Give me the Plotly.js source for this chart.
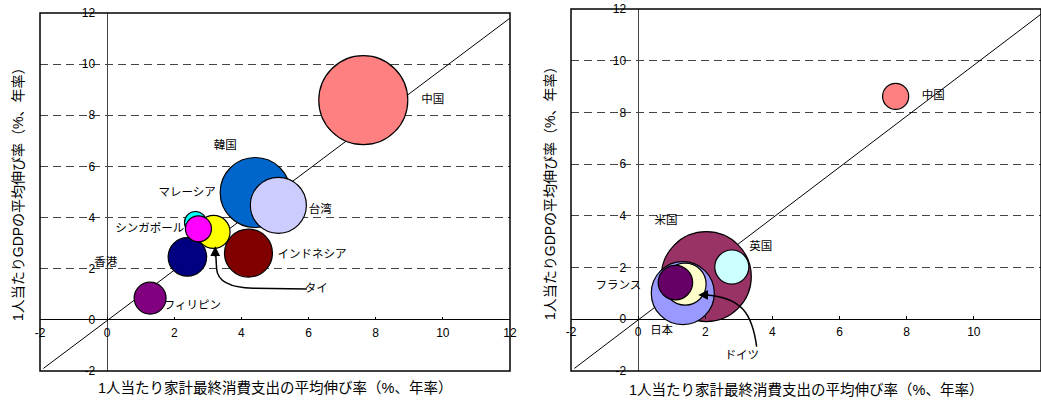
<!DOCTYPE html>
<html>
<head>
<meta charset="utf-8">
<script src="https://cdn.plot.ly/plotly-3.0.1.min.js"></script>
<style>
  body { margin: 0; background: #fff; }
  #chart { width: 1041px; height: 400px; }
</style>
</head>
<body>
<div id="chart"></div>
<script>
// left panel: Asian economies (x = consumption growth, y = GDP growth, size = bubble value)
const asiaNames = ['中国', '韓国', '台湾', 'インドネシア', '香港', 'フィリピン', 'マレーシア', 'タイ', 'シンガポール'];
const asiaCons = [7.63, 4.41, 5.10, 4.21, 2.39, 1.28, 2.63, 3.17, 2.72];
const asiaGdp = [8.59, 4.98, 4.48, 2.61, 2.46, 0.85, 3.81, 3.44, 3.56];
const asiaSize = [79.2, 49.0, 31.4, 23.0, 14.8, 10.2, 4.8, 10.9, 6.8];
const asiaColors = ['#FF8080', '#0066CC', '#CCCCFF', '#800000', '#000080', '#800080', '#00FFFF', '#FFFF00', '#FF00FF'];
const asiaLabelX = [9.70, 3.52, 6.35, 6.10, -0.04, 2.54, 2.38, 6.23, 1.27];
const asiaLabelY = [8.60, 6.78, 4.30, 2.54, 2.22, 0.52, 4.96, 1.22, 3.56];

// right panel: major economies
const worldNames = ['中国', '米国', '英国', '日本', 'ドイツ', 'フランス'];
const worldCons = [7.67, 2.03, 2.79, 1.33, 1.40, 1.11];
const worldGdp = [8.62, 1.65, 2.02, 1.01, 1.36, 1.42];
const worldSize = [6.8, 81.0, 11.6, 39.7, 17.6, 11.9];
const worldColors = ['#FF8080', '#993366', '#CCFFFF', '#9999FF', '#FFFFCC', '#660066'];
const worldLabelX = [8.79, 0.83, 3.65, 0.70, 3.09, -0.59];
const worldLabelY = [8.62, 3.81, 2.79, -0.45, -1.44, 1.30];

// 45 degree line
const diagX = [-1.9, 12];
const diagY = [-1.9, 11.8];

// axis ticks
const tickVals = [-2, 0, 2, 4, 6, 8, 10, 12];
const tickText = ['-2', '0', '2', '4', '6', '8', '10', '12'];
const axisRange = [-2, 12];

const xTitle = '1人当たり家計最終消費支出の平均伸び率（%、年率）';
const yTitle = '1人当たりGDPの平均伸び率（%、年率）';

const jpFont = 'Liberation Sans, Noto Sans CJK JP, sans-serif';
const W = 1041, H = 400;

// panel boxes in pixels
const leftBox = { x0: 40, x1: 510, top: 13, bottom: 371 };
const rightBox = { x0: 571, x1: 1041, top: 9, bottom: 371 };

function zeroFrac(d) {
    // paper fraction where the value 0 sits inside the domain
    return d[0] + (0 - axisRange[0]) / (axisRange[1] - axisRange[0]) * (d[1] - d[0]);
}

function makeAxes(box) {
    const xd = [box.x0 / W, box.x1 / W];
    const yd = [(H - box.bottom) / H, (H - box.top) / H];
    const tickfont = { family: 'Liberation Sans, Arial, sans-serif', size: 12, color: '#000' };
    const xa = {
        domain: xd, range: axisRange, anchor: 'free', position: zeroFrac(yd),
        tickvals: tickVals, ticktext: tickText, tickfont: tickfont,
        ticks: 'inside', ticklen: 3, tickcolor: '#000', ticklabelstandoff: 4,
        showline: false,
        showgrid: false, zeroline: true, zerolinecolor: '#444', zerolinewidth: 1,
        fixedrange: true
    };
    const ya = {
        domain: yd, range: axisRange, anchor: 'free', position: zeroFrac(xd),
        tickvals: tickVals, ticktext: tickText, tickfont: tickfont,
        ticks: '', ticklabelstandoff: 12,
        showline: false,
        showgrid: true, gridcolor: '#444', gridwidth: 1.2, griddash: '8px,5px',
        zeroline: true, zerolinecolor: '#000', zerolinewidth: 1.2,
        fixedrange: true
    };
    return [xa, ya];
}

function bubbles(xs, ys, sizes, colors, xa, ya) {
    return {
        x: xs, y: ys, xaxis: xa, yaxis: ya,
        mode: 'markers', type: 'scatter', hoverinfo: 'skip',
        marker: {
            size: sizes, sizemode: 'area', sizeref: 0.02,
            color: colors, opacity: 1,
            line: { color: '#000', width: 1.2 }
        }
    };
}

function labels(xs, ys, names, xa, ya) {
    return {
        x: xs, y: ys, text: names, xaxis: xa, yaxis: ya,
        mode: 'text', type: 'scatter', hoverinfo: 'skip', cliponaxis: false,
        textposition: 'middle center',
        textfont: { family: jpFont, size: 11.5, color: '#000' }
    };
}

function diagonal(xa, ya) {
    return {
        x: diagX, y: diagY, xaxis: xa, yaxis: ya,
        mode: 'lines', type: 'scatter', hoverinfo: 'skip',
        line: { color: '#000', width: 1 }
    };
}

const [xa1, ya1] = makeAxes(leftBox);
const [xa2, ya2] = makeAxes(rightBox);

const data = [
    diagonal('x', 'y'),
    labels(asiaLabelX, asiaLabelY, asiaNames, 'x', 'y'),
    bubbles(asiaCons, asiaGdp, asiaSize, asiaColors, 'x', 'y'),
    diagonal('x2', 'y2'),
    labels(worldLabelX, worldLabelY, worldNames, 'x2', 'y2'),
    bubbles(worldCons, worldGdp, worldSize, worldColors, 'x2', 'y2')
];

// curved arrows (タイ, ドイツ) as paths in data units
const thaiPath = [[5.95, 1.21], [4.35, 1.24], [3.30, 1.27], [3.26, 2.0], [3.23, 2.7]];
const germanyPath = [[3.53, -1.06], [3.40, 0.20], [3.10, 0.85], [2.00, 0.94]];

const p = (pt) => pt[0] + ',' + pt[1];
const shapes = [
    {
        type: 'rect', xref: 'x domain', yref: 'y domain', x0: 0, x1: 1, y0: 0, y1: 1,
        line: { color: '#000', width: 1.5 }
    },
    {
        type: 'rect', xref: 'x2 domain', yref: 'y2 domain', x0: 0, x1: 1, y0: 0, y1: 1,
        line: { color: '#000', width: 1.5 }
    },
    {
        type: 'path', xref: 'x', yref: 'y',
        path: 'M' + p(thaiPath[0]) + ' L' + p(thaiPath[1]) + ' Q' + p(thaiPath[2]) + ' ' + p(thaiPath[3]) + ' L' + p(thaiPath[4]),
        line: { color: '#000', width: 1.5 }
    },
    {
        type: 'path', xref: 'x2', yref: 'y2',
        path: 'M' + p(germanyPath[0]) + ' C' + p(germanyPath[1]) + ' ' + p(germanyPath[2]) + ' ' + p(germanyPath[3]),
        line: { color: '#000', width: 1.5 }
    }
];

const xTitleFont = { family: jpFont, size: 14.5, color: '#000' };
const yTitleFont = { family: jpFont, size: 14, color: '#000' };
const annotations = [
    // arrow heads
    { xref: 'x', yref: 'y', x: 3.22, y: 2.88, ax: 0, ay: 12, text: '', showarrow: true,
      arrowhead: 2, arrowsize: 1.3, arrowwidth: 1.5, arrowcolor: '#000' },
    { xref: 'x2', yref: 'y2', x: 1.79, y: 0.94, ax: 12, ay: 0, text: '', showarrow: true,
      arrowhead: 2, arrowsize: 1.3, arrowwidth: 1.5, arrowcolor: '#000' },
    // axis titles
    { xref: 'paper', yref: 'paper', x: 275 / W, y: (H - 388) / H, text: xTitle,
      showarrow: false, font: xTitleFont, xanchor: 'center', yanchor: 'middle' },
    { xref: 'paper', yref: 'paper', x: 806 / W, y: (H - 390) / H, text: xTitle,
      showarrow: false, font: xTitleFont, xanchor: 'center', yanchor: 'middle' },
    { xref: 'paper', yref: 'paper', x: 18 / W, y: (H - 191) / H, text: yTitle, textangle: -90,
      showarrow: false, font: yTitleFont, xanchor: 'center', yanchor: 'middle' },
    { xref: 'paper', yref: 'paper', x: 550 / W, y: (H - 190) / H, text: yTitle, textangle: -90,
      showarrow: false, font: yTitleFont, xanchor: 'center', yanchor: 'middle' }
];

const layout = {
    width: W, height: H,
    margin: { l: 0, r: 0, t: 0, b: 0 },
    paper_bgcolor: '#fff', plot_bgcolor: '#fff',
    showlegend: false,
    xaxis: xa1, yaxis: ya1,
    xaxis2: xa2, yaxis2: ya2,
    shapes: shapes,
    annotations: annotations
};

Plotly.newPlot('chart', data, layout, { displayModeBar: false, staticPlot: true });
</script>
</body>
</html>
